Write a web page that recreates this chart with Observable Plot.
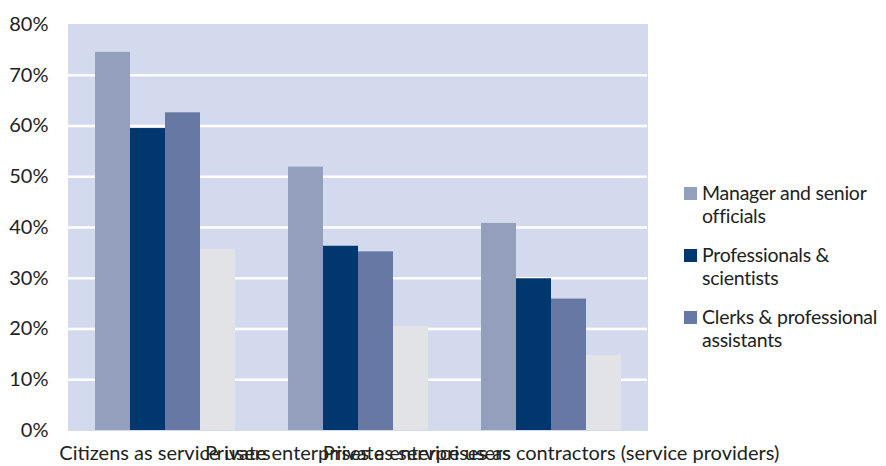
<!DOCTYPE html>
<html><head><meta charset="utf-8">
<script src="https://cdn.jsdelivr.net/npm/d3@7"></script>
<script src="https://cdn.jsdelivr.net/npm/@observablehq/plot@0.6"></script>
<style>
body{margin:0;background:#fff;font-family:Lato,sans-serif;}
#wrap{position:relative;width:886px;height:466px;}
#legend{position:absolute;left:684px;top:181px;width:202px;font-size:19.5px;letter-spacing:-0.25px;color:#222;line-height:23px;font-family:Lato,sans-serif;}
.item{display:flex;align-items:flex-start;margin-bottom:16px;}
.sw{width:13px;height:13px;flex:none;margin-top:6px;margin-right:5px;}
</style></head><body><div id="wrap"></div>
<script>
const categories = ["Citizens as service users", "Private enterprises as service users", "Private enterprises as contractors (service providers)"];
const seriesNames = ["Manager and senior officials", "Professionals & scientists", "Clerks & professional assistants", "Other occupations"];
const managers = [74.5, 51.9, 40.8];
const professionals = [59.5, 36.3, 29.9];
const clerks = [62.6, 35.2, 25.9];
const others = [35.7, 20.5, 14.8];
const seriesColors = ["#949FBD", "#00376F", "#6778A4", "#E2E3E7"];
const yTicks = [0, 10, 20, 30, 40, 50, 60, 70, 80];
const gridTicks = [10, 20, 30, 40, 50, 60, 70];
const legendCount = 3;

const valuesBySeries = [managers, professionals, clerks, others];
const data = categories.flatMap((c, i) => seriesNames.map((s, j) => ({category: c, series: s, value: valuesBySeries[j][i]})));

const bg = "#D4DAEE";
const chart = Plot.plot({
  width: 886,
  height: 466,
  marginLeft: 68,
  marginRight: 239,
  marginTop: 24,
  marginBottom: 36,
  style: {fontSize: "20px", fontFamily: "Lato, sans-serif", color: "#222", background: "white"},
  fx: {domain: categories, padding: 0, axis: "bottom", label: null, tickSize: 0, tickPadding: 15},
  x: {type: "band", domain: seriesNames, paddingInner: 0, paddingOuter: 0.74, axis: null},
  y: {domain: [0, 80], ticks: yTicks, tickFormat: d => d + "%", tickSize: 0, tickPadding: 20, label: null},
  color: {domain: seriesNames, range: seriesColors},
  marks: [
    Plot.frame({fill: bg, stroke: bg, strokeWidth: 1, shapeRendering: "crispEdges"}),
    Plot.ruleY(gridTicks, {stroke: "white", strokeWidth: 2.5}),
    Plot.barY(data, {fx: "category", x: "series", y: "value", fill: "series", inset: 0})
  ]
});
const wrap = document.getElementById("wrap");
wrap.appendChild(chart);

const legend = document.createElement("div");
legend.id = "legend";
seriesNames.slice(0, legendCount).forEach((s, j) => {
  const item = document.createElement("div");
  item.className = "item";
  const sw = document.createElement("div");
  sw.className = "sw";
  sw.style.background = seriesColors[j];
  const t = document.createElement("div");
  t.textContent = s;
  item.appendChild(sw);
  item.appendChild(t);
  legend.appendChild(item);
});
wrap.appendChild(legend);
</script>
</body></html>
